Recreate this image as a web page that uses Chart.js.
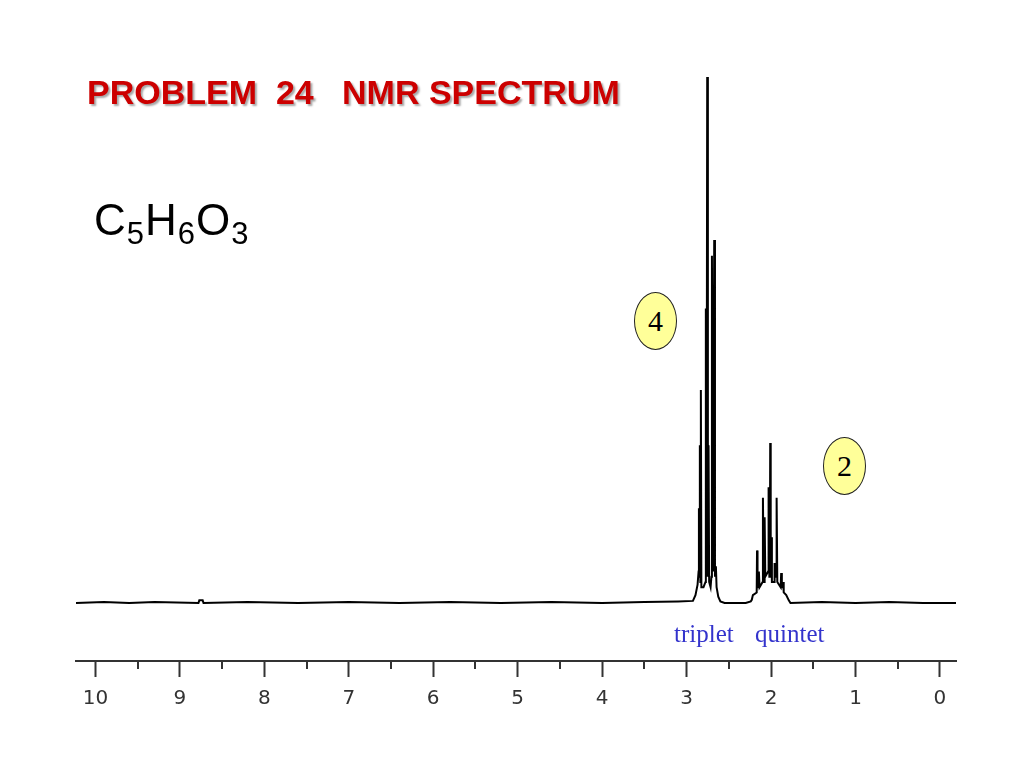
<!DOCTYPE html>
<html>
<head>
<meta charset="utf-8">
<script src="https://cdn.jsdelivr.net/npm/chart.js@4"></script>
<style>
  html, body { margin: 0; padding: 0; background: #fff; }
  #wrap { position: relative; width: 1024px; height: 768px; overflow: hidden; }
  #spectrum { position: absolute; left: 0; top: 0; }
  .title {
    position: absolute; left: 87px; top: 73px; margin: 0;
    font: bold 34px "Liberation Sans", Arial, sans-serif;
    color: #cc0000; white-space: pre;
    text-shadow: 2px 2px 2px rgba(0, 0, 0, 0.35);
  }
  .formula {
    position: absolute; left: 94px; top: 195px; letter-spacing: 1px;
    font: 44px "Liberation Sans", Arial, sans-serif; color: #000;
  }
  .formula sub { font-size: 31px; vertical-align: -9px; line-height: 0; }
  .mult {
    position: absolute; top: 620px;
    font: 25px "Liberation Serif", "Times New Roman", serif; color: #3333cc;
  }
  .badge {
    position: absolute; width: 41px; height: 56px; border: 1px solid #222;
    border-radius: 50%; background: #ffff99; text-align: center;
    font: 30px "Liberation Serif", "Times New Roman", serif; line-height: 56px; color: #000;
  }
</style>
</head>
<body>
<div id="wrap">
  <canvas id="spectrum" width="1024" height="768"></canvas>
  <div class="title">PROBLEM  24   NMR SPECTRUM</div>
  <div class="formula">C<sub>5</sub>H<sub>6</sub>O<sub>3</sub></div>
  <div class="badge" style="left:634px; top:292px;">4</div>
  <div class="badge" style="left:823px; top:437px;">2</div>
  <div class="mult" style="left:674px;">triplet</div>
  <div class="mult" style="left:755px;">quintet</div>
</div>
<script>
// chemical shift (ppm) of each traced point, left to right
const shifts = [
  10.23, 9.9, 9.6, 9.3, 8.78, 8.77, 8.73, 8.72, 8.2, 7.6, 7.0, 6.4, 5.8, 5.2, 4.6, 4.0, 3.5, 3.1,
  2.925, 2.895, 2.870, 2.858, 2.854, 2.850, 2.843, 2.837, 2.831, 2.825, 2.800, 2.776, 2.772,
  2.764, 2.756, 2.748, 2.740, 2.733, 2.716, 2.706, 2.700, 2.687, 2.673, 2.664, 2.653, 2.645,
  2.625, 2.600, 2.55,
  2.30, 2.24, 2.228, 2.215, 2.170, 2.166, 2.160, 2.150, 2.144, 2.136, 2.100, 2.096, 2.088,
  2.080, 2.076, 2.068, 2.035, 2.029, 2.020, 2.014, 2.010, 2.004, 1.998, 1.990, 1.965, 1.958,
  1.950, 1.938, 1.934, 1.926, 1.886, 1.880, 1.872, 1.860, 1.856, 1.850, 1.820, 1.79, 1.77,
  1.4, 1.0, 0.6, 0.2, -0.19
];
// intensity at each point (tallest line = 100)
const intensity = [
  0, 0.2, 0, 0.2, 0, 0.5, 0.5, 0, 0.2, 0, 0.2, 0, 0.2, 0, 0.2, 0, 0.2, 0.3,
  0.4, 1.5, 3.5, 6, 18, 5, 30, 4, 40.5, 3, 3, 4, 56,
  5, 100, 5, 30, 4, 3, 5, 66, 6, 69, 5, 7, 3,
  1.2, 0.3, 0,
  0, 0.3, 0.6, 1.5, 2, 10, 3, 3, 6, 3, 4, 20, 5,
  4, 16.3, 5, 6, 22, 5, 6, 30.4, 6, 12.5, 4, 4, 7.6,
  5, 5, 20, 4, 3, 5.7, 3, 3, 4, 2, 1.5, 0.5, 0,
  0.2, 0, 0.2, 0, 0
];
const majorTicks = [0, 1, 2, 3, 4, 5, 6, 7, 8, 9, 10];
const minorTicks = [0.5, 1.5, 2.5, 3.5, 4.5, 5.5, 6.5, 7.5, 8.5, 9.5];

const axisColor = "#333";

const minorTickPlugin = {
  id: "minorTicks",
  afterDraw(chart) {
    const scale = chart.scales.x;
    const c = chart.ctx;
    c.save();
    c.strokeStyle = axisColor;
    c.lineWidth = 2;
    minorTicks.forEach((v) => {
      const x = Math.round(scale.getPixelForValue(v));
      c.beginPath();
      c.moveTo(x, scale.top);
      c.lineTo(x, scale.top + 8);
      c.stroke();
    });
    c.restore();
  },
};

new Chart(document.getElementById("spectrum"), {
  type: "line",
  data: {
    datasets: [
      {
        data: shifts.map((s, i) => ({ x: s, y: intensity[i] })),
        borderColor: "#000",
        borderWidth: 2,
        pointRadius: 0,
        tension: 0,
        fill: false,
      },
    ],
  },
  options: {
    responsive: false,
    animation: false,
    events: [],
    layout: { padding: { left: 76, right: 68, top: 70, bottom: 27 } },
    plugins: { legend: { display: false }, tooltip: { enabled: false } },
    scales: {
      x: {
        type: "linear",
        reverse: true,
        min: -0.19,
        max: 10.23,
        afterBuildTicks: (scale) => {
          scale.ticks = majorTicks.map((v) => ({ value: v }));
        },
        afterFit: (scale) => {
          scale.height = 80;
        },
        border: { display: true, color: axisColor, width: 2 },
        grid: {
          drawOnChartArea: false,
          drawTicks: true,
          tickLength: 16,
          tickColor: axisColor,
          tickWidth: 2,
        },
        ticks: {
          autoSkip: false,
          maxRotation: 0,
          padding: 10,
          color: "#333",
          font: { family: "DejaVu Sans", size: 20 },
          callback: (v) => String(v),
        },
      },
      y: {
        display: false,
        min: -11.03,
        max: 101.33,
      },
    },
  },
  plugins: [minorTickPlugin],
});
</script>
</body>
</html>
